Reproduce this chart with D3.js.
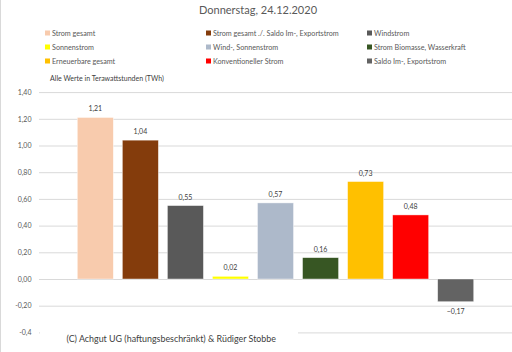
<!DOCTYPE html>
<html><head><meta charset="utf-8">
<script src="https://cdn.jsdelivr.net/npm/d3@7"></script>
<style>
html,body{margin:0;padding:0;background:#fff;}
svg{display:block;font-family:Lato,"Open Sans",sans-serif;}
</style></head>
<body>
<svg id="c" width="512" height="352"></svg>
<script>
const categories = ["Strom gesamt","Strom gesamt ./. Saldo Im-, Exportstrom","Windstrom","Sonnenstrom","Wind-, Sonnenstrom","Strom Biomasse, Wasserkraft","Erneuerbare gesamt","Konventioneller Strom","Saldo Im-, Exportstrom"];
const values = [1.21,1.04,0.55,0.02,0.57,0.16,0.73,0.48,-0.17];
const colors = ["#F8CBAD","#843C0C","#595959","#FFFF00","#ADB9CA","#375623","#FFC000","#FF0000","#636363"];
const tickValues = [1.4,1.2,1.0,0.8,0.6,0.4,0.2,0.0,-0.2,-0.4];
const tickLabels = ["1,40","1,20","1,00","0,80","0,60","0,40","0,20","0,00","-0,20","-0,4"];
const title = "Donnerstag, 24.12.2020";
const subtitle = "Alle Werte in Terawattstunden (TWh)";
const footer = "(C) Achgut UG (haftungsbeschränkt) & Rüdiger Stobbe";

const svg = d3.select("#c");
const fmt = v => d3.format(".2f")(v).replace(".", ",");

// left border
svg.append("line").attr("x1",0.5).attr("x2",0.5).attr("y1",0).attr("y2",352).attr("stroke","#d9d9d9");

svg.append("text").attr("x",258).attr("y",14).attr("text-anchor","middle")
  .attr("font-size",11).attr("fill","#595959").text(title);

// legend
const legCols = [45,206,367];
const legRows = [33,47,61];
categories.forEach((c,i)=>{
  const x = legCols[i%3], y = legRows[Math.floor(i/3)];
  svg.append("rect").attr("x",x).attr("y",y-2.5).attr("width",5).attr("height",5).attr("fill",colors[i]);
  svg.append("text").attr("x",x+7).attr("y",y+2.5).attr("font-size",7.2).attr("fill","#595959").text(c);
});
svg.append("text").attr("x",50).attr("y",80.5).attr("font-size",7).attr("fill","#404040").text(subtitle);

const y = d3.scaleLinear().domain([-0.4,1.4]).range([332.4,92.1]);
const x = d3.scaleBand().domain(categories).range([39,512]).paddingInner(0.2).paddingOuter(0.85);

// gridlines
const yAxis = d3.axisLeft(y).tickValues(tickValues).tickFormat((d,i)=>tickLabels[i]).tickSize(-480).tickPadding(8);
const g = svg.append("g").attr("transform","translate(39,0)").call(yAxis);
g.select(".domain").remove();
g.selectAll(".tick line").attr("stroke","#d9d9d9").attr("stroke-width",1);
g.selectAll(".tick text").attr("fill","#595959").attr("font-size",7).attr("font-family","Lato,'Open Sans',sans-serif").attr("x",-7.5);

// bars
svg.append("g").selectAll("rect").data(values).join("rect")
  .attr("x",(d,i)=>x(categories[i]))
  .attr("width",x.bandwidth())
  .attr("y",d=>y(Math.max(0,d)))
  .attr("height",d=>Math.abs(y(d)-y(0)))
  .attr("fill",(d,i)=>colors[i])
  .attr("stroke","#ffffff").attr("stroke-opacity",0.6).attr("stroke-width",0.7);

// value labels
svg.append("g").selectAll("text").data(values).join("text")
  .attr("x",(d,i)=>x(categories[i])+x.bandwidth()/2)
  .attr("y",d=> d>=0 ? y(d)-6 : y(d)+12)
  .attr("text-anchor","middle").attr("font-size",7).attr("fill","#404040")
  .text(d=>fmt(d));

// footer with white background covering the gridline
svg.append("rect").attr("x",40).attr("y",328).attr("width",258).attr("height",18).attr("fill","#fff");
svg.append("text").attr("x",66.5).attr("y",341.5).attr("font-size",8.9).attr("fill","#404040").text(footer);
</script>
</body></html>
